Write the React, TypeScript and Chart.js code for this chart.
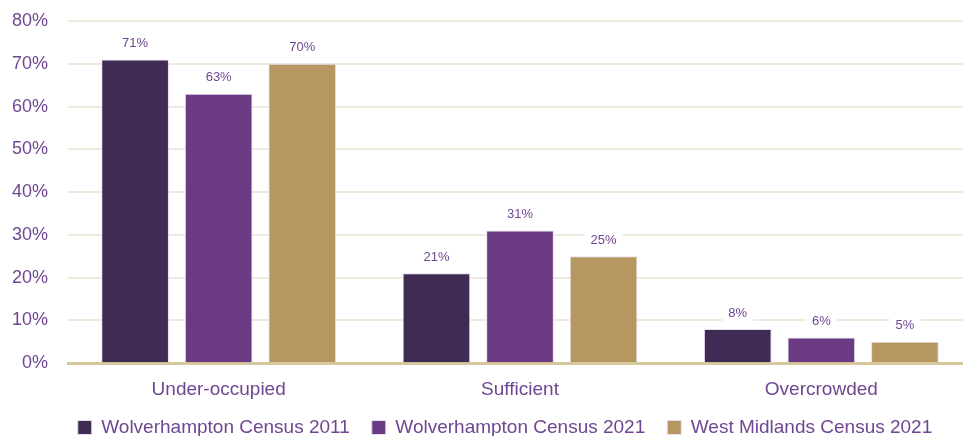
import React, { useEffect, useRef } from "react";
import { Chart, registerables } from "chart.js";

Chart.register(...registerables);

const categories = ["Under-occupied", "Sufficient", "Overcrowded"];
const seriesNames = ["Wolverhampton Census 2011", "Wolverhampton Census 2021", "West Midlands Census 2021"];
const wolv2011 = [71, 21, 8];
const wolv2021 = [63, 31, 6];
const westMid2021 = [70, 25, 5];
const yTicks = [0, 10, 20, 30, 40, 50, 60, 70, 80];

const colors = ["#402b55", "#6a3a82", "#b5975f"];
const textColor = "#6f4691";
const font = "'Liberation Sans', Arial, sans-serif";

const labelPlugin = {
  id: "barLabels",
  afterLayout(chart: any) {
    if (chart.legend) {
      chart.legend.left += 19;
      chart.legend.right += 19;
    }
    if (chart.scales.x) {
      chart.scales.x.bottom += 20;
    }
  },
  afterDatasetsDraw(chart: any) {
    const ctx = chart.ctx;
    ctx.save();
    ctx.font = `13px ${font}`;
    ctx.textAlign = "center";
    ctx.textBaseline = "middle";
    chart.data.datasets.forEach((ds: any, di: number) => {
      const meta = chart.getDatasetMeta(di);
      meta.data.forEach((bar: any, i: number) => {
        const txt = ds.data[i] + "%";
        const x = bar.x;
        const y = bar.y - 16;
        const w = ctx.measureText(txt).width + 12;
        const h = 22;
        ctx.fillStyle = "#ffffff";
        ctx.fillRect(x - w / 2, y - h / 2, w, h);
        ctx.fillStyle = textColor;
        ctx.fillText(txt, x, y);
      });
    });
    ctx.restore();
  },
};

export default function App() {
  const ref = useRef<HTMLCanvasElement>(null);
  useEffect(() => {
    const data = [wolv2011, wolv2021, westMid2021];
    const chart = new Chart(ref.current!, {
      type: "bar",
      data: {
        labels: categories,
        datasets: seriesNames.map((name, k) => ({
          label: name,
          data: data[k],
          backgroundColor: colors[k],
          borderColor: "#e6def0",
          borderWidth: 1,
          categoryPercentage: 0.832,
          barPercentage: 0.81,
        })),
      },
      options: {
        animation: false,
        responsive: true,
        maintainAspectRatio: false,
        layout: { autoPadding: false, padding: { top: 21, right: 0, left: 0, bottom: -11 } },
        plugins: {
          tooltip: { enabled: false },
          legend: {
            position: "bottom",
            labels: {
              color: textColor,
              font: { family: font, size: 19 },
              boxWidth: 14,
              boxHeight: 14,
              padding: 22,
            },
          },
        },
        scales: {
          x: {
            grid: { display: false, drawTicks: false },
            border: { color: "#d6c79d", width: 3 },
            ticks: { color: textColor, font: { family: font, size: 19 }, padding: 15 },
            afterFit: (scale: any) => {
              scale.height -= 20;
              scale.paddingLeft = 0;
              scale.paddingRight = 0;
            },
          },
          y: {
            min: 0,
            max: 80,
            afterBuildTicks: (axis: any) => {
              axis.ticks = yTicks.map((v) => ({ value: v }));
            },
            grid: { color: "#efebdc", lineWidth: 2, drawTicks: false },
            border: { display: false },
            ticks: {
              color: textColor,
              font: { family: font, size: 18 },
              padding: 20,
              callback: (v: any) => v + "%",
            },
            afterFit: (scale: any) => {
              scale.width = 68;
              scale.paddingTop = 0;
              scale.paddingBottom = 0;
            },
          },
        },
      },
      plugins: [labelPlugin],
    });
    return () => chart.destroy();
  }, []);
  return (
    <div style={{ position: "fixed", left: 0, top: 0, width: 963, height: 436, overflow: "hidden", background: "#fff" }}>
      <div style={{ position: "relative", width: 972, height: 436 }}>
        <canvas ref={ref} />
      </div>
    </div>
  );
}
